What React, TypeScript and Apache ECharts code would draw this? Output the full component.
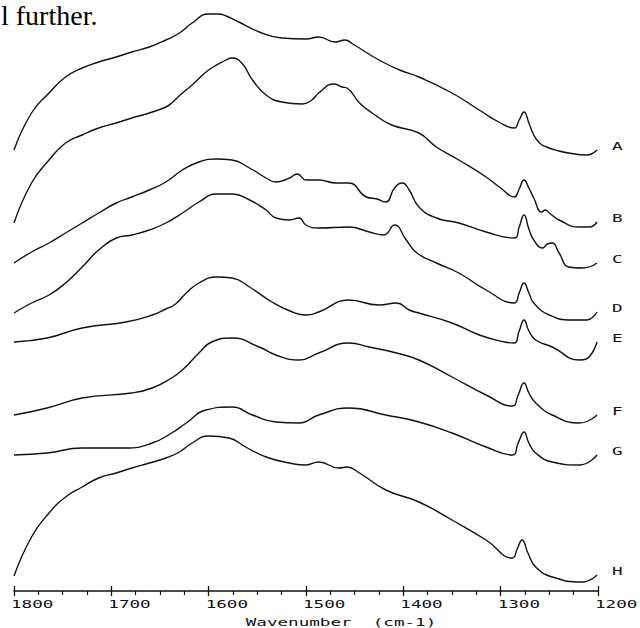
import React, { useEffect, useRef } from 'react';
import * as echarts from 'echarts';

// ---- data (wavenumber cm-1, intensity in arbitrary stacked units) ----
const SERIES_NAMES = ['A', 'B', 'C', 'D', 'E', 'F', 'G', 'H'];
const X_TICKS = [1800, 1700, 1600, 1500, 1400, 1300, 1200];
const X_TITLE = 'Wavenumber  (cm-1)';
const PAGE_TEXT = 'l further.';

const curveA: [number, number][] = [
  [1800, 441], [1782, 478], [1764, 498], [1747, 514], [1730, 523], [1713, 529], [1695, 534], [1679, 539],
  [1661, 544], [1644, 551], [1630, 558], [1617, 568], [1600, 577], [1590, 577], [1582, 575], [1569, 569],
  [1548, 559], [1525, 553], [1500, 552], [1487, 554], [1470, 549], [1460, 551], [1452, 547], [1425, 531],
  [1404, 521], [1384, 514], [1350, 498], [1322, 481], [1302, 469], [1286, 463], [1281, 471], [1276, 479],
  [1271, 468], [1266, 456], [1260, 448], [1253, 444], [1240, 440], [1230, 438], [1212, 436], [1201, 441],
];
const curveB: [number, number][] = [
  [1800, 368], [1782, 408], [1764, 431], [1747, 448], [1730, 456], [1713, 463], [1695, 468], [1679, 473],
  [1661, 478], [1644, 484], [1638, 488], [1627, 498], [1617, 506], [1600, 521], [1582, 531], [1576, 533],
  [1566, 528], [1555, 511], [1541, 496], [1525, 489], [1504, 487], [1494, 491], [1487, 498], [1471, 507],
  [1463, 504], [1458, 503], [1445, 488], [1432, 478], [1412, 466], [1384, 458], [1366, 444], [1343, 431],
  [1315, 414], [1300, 403], [1286, 394], [1281, 402], [1276, 411], [1271, 403], [1266, 393], [1258, 379],
  [1254, 381], [1250, 378], [1240, 371], [1219, 364], [1209, 364], [1201, 369],
];
const curveC: [number, number][] = [
  [1800, 328], [1782, 339], [1764, 348], [1747, 358], [1730, 368], [1713, 378], [1695, 388], [1679, 394],
  [1661, 401], [1644, 409], [1627, 421], [1610, 429], [1592, 432], [1576, 431], [1558, 423], [1541, 413],
  [1531, 409], [1517, 413], [1509, 417], [1500, 411], [1487, 411], [1469, 408], [1456, 408], [1438, 394],
  [1427, 392], [1418, 389], [1409, 403], [1401, 408], [1394, 401], [1384, 384], [1366, 373], [1343, 368],
  [1315, 359], [1286, 353], [1281, 364], [1276, 376], [1271, 362], [1266, 351], [1257, 343], [1252, 347],
  [1247, 348], [1240, 338], [1230, 324], [1216, 323], [1201, 328],
];
const curveD: [number, number][] = [
  [1800, 278], [1782, 288], [1764, 296], [1747, 308], [1730, 324], [1713, 341], [1695, 353], [1679, 356],
  [1661, 361], [1644, 368], [1627, 378], [1610, 389], [1592, 397], [1576, 397], [1558, 391], [1541, 381],
  [1531, 373], [1517, 371], [1507, 373], [1500, 366], [1487, 363], [1456, 364], [1435, 359], [1420, 356],
  [1409, 366], [1397, 351], [1386, 338], [1366, 328], [1343, 318], [1315, 301], [1286, 288], [1281, 298],
  [1276, 308], [1271, 298], [1266, 288], [1250, 276], [1227, 271], [1212, 271], [1201, 279],
];
const curveE: [number, number][] = [
  [1800, 249], [1766, 253], [1730, 263], [1685, 269], [1658, 276], [1644, 282], [1634, 287], [1623, 298],
  [1610, 308], [1592, 314], [1576, 313], [1558, 304], [1535, 289], [1514, 279], [1500, 276], [1487, 279],
  [1456, 291], [1425, 286], [1407, 288], [1394, 281], [1384, 278], [1350, 268], [1322, 256], [1296, 249],
  [1286, 248], [1281, 260], [1276, 271], [1271, 260], [1264, 251], [1247, 244], [1219, 231], [1212, 232],
  [1201, 249],
];
const curveF: [number, number][] = [
  [1800, 176], [1766, 183], [1730, 193], [1679, 198], [1658, 203], [1638, 213], [1627, 221], [1610, 238],
  [1597, 249], [1576, 253], [1548, 244], [1531, 236], [1507, 231], [1487, 238], [1456, 248], [1435, 244],
  [1407, 238], [1384, 231], [1350, 214], [1315, 196], [1288, 185], [1282, 196], [1276, 208], [1271, 198],
  [1264, 188], [1247, 176], [1219, 168], [1201, 176],
];
const curveG: [number, number][] = [
  [1800, 136], [1766, 138], [1730, 143], [1685, 143], [1658, 148], [1638, 158], [1623, 168], [1603, 181],
  [1576, 184], [1555, 176], [1531, 169], [1507, 168], [1487, 176], [1456, 183], [1418, 176], [1384, 169],
  [1350, 158], [1315, 144], [1288, 136], [1282, 148], [1276, 159], [1271, 148], [1264, 138], [1247, 129],
  [1219, 126], [1201, 136],
];
const curveH: [number, number][] = [
  [1800, 15], [1782, 54], [1764, 78], [1747, 94], [1730, 104], [1713, 113], [1695, 118], [1679, 123],
  [1661, 128], [1644, 133], [1630, 139], [1617, 148], [1600, 155], [1579, 153], [1562, 144], [1541, 134],
  [1517, 128], [1500, 126], [1487, 129], [1466, 123], [1458, 124], [1445, 118], [1418, 101], [1384, 89],
  [1350, 71], [1315, 51], [1288, 33], [1283, 42], [1278, 51], [1272, 38], [1264, 24], [1247, 14],
  [1216, 9], [1201, 16],
];

const CURVES = [curveA, curveB, curveC, curveD, curveE, curveF, curveG, curveH];

export default function App() {
  const ref = useRef<HTMLDivElement>(null);

  useEffect(() => {
    if (!ref.current) return;
    const chart = echarts.init(ref.current, null, { renderer: 'svg' });
    const INK = '#111';
    const MONO = 'DejaVu Sans Mono';
    const gridBox = { left: 14, right: 42, top: 0, bottom: 37 };

    const baseX = {
      type: 'value',
      min: 1200,
      max: 1800,
      interval: 100,
      inverse: true,
      splitLine: { show: false },
      minorSplitLine: { show: false },
      axisLabel: { show: false },
    };

    chart.setOption({
      animation: false,
      backgroundColor: '#ffffff',
      grid: [{ ...gridBox }, { ...gridBox }],
      xAxis: [
        {
          ...baseX,
          gridIndex: 0,
          axisLine: { show: true, lineStyle: { color: INK, width: 1.5 } },
          axisTick: { show: true, inside: false, length: 5, lineStyle: { color: INK, width: 1.3 } },
          minorTick: { show: true, splitNumber: 4, length: 4, lineStyle: { color: INK, width: 1.2 } },
        },
        {
          ...baseX,
          gridIndex: 1,
          axisLine: { show: false },
          axisTick: { show: true, inside: true, length: 5, lineStyle: { color: INK, width: 1.3 } },
          minorTick: { show: false },
        },
      ],
      yAxis: [
        { gridIndex: 0, type: 'value', min: 0, max: 591, show: false },
        { gridIndex: 1, type: 'value', min: 0, max: 591, show: false },
      ],
      series: CURVES.map((d, i) => ({
        type: 'line',
        name: SERIES_NAMES[i],
        xAxisIndex: 0,
        yAxisIndex: 0,
        data: d,
        symbol: 'none',
        showSymbol: false,
        smooth: 0.5,
        silent: true,
        lineStyle: { color: INK, width: 1.4 },
      })),
    });

    const plotterText = (text: string, x: number, y: number, align: string) => ({
      type: 'text',
      x,
      y,
      scaleX: 1.6,
      silent: true,
      style: {
        text,
        fontFamily: MONO,
        fontSize: 11,
        fill: INK,
        align,
        textAlign: align,
        verticalAlign: 'middle',
        textVerticalAlign: 'middle',
      },
    });

    const graphics: any[] = [];
    const axisY = chart.convertToPixel({ gridIndex: 0 }, [1800, 0])[1];
    X_TICKS.forEach((t) => {
      const px = chart.convertToPixel({ xAxisIndex: 0 }, t) as number;
      graphics.push(plotterText(String(t), px - 3, axisY + 13, 'left'));
    });
    graphics.push(plotterText(X_TITLE, 341, axisY + 31, 'center'));

    CURVES.forEach((d, i) => {
      const last = d[d.length - 1];
      const p = chart.convertToPixel({ gridIndex: 0 }, last) as number[];
      graphics.push(plotterText(SERIES_NAMES[i], p[0] + 15, p[1] - 4, 'left'));
    });

    graphics.push({
      type: 'text',
      x: 1,
      y: 1,
      silent: true,
      style: {
        text: PAGE_TEXT,
        fontFamily: 'Liberation Serif',
        fontSize: 28,
        fill: '#000',
        align: 'left',
        textAlign: 'left',
        verticalAlign: 'top',
        textVerticalAlign: 'top',
      },
    });

    chart.setOption({ graphic: graphics });

    return () => chart.dispose();
  }, []);

  return (
    <div
      ref={ref}
      style={{ position: 'fixed', left: 0, top: 0, width: 640, height: 628, background: '#fff' }}
    />
  );
}
